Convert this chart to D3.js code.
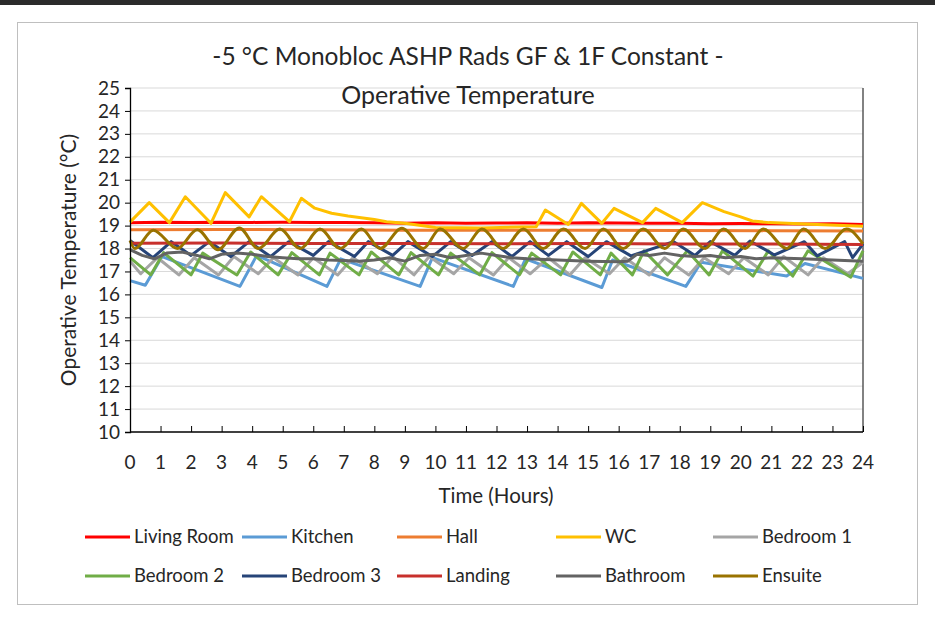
<!DOCTYPE html>
<html>
<head>
<meta charset="utf-8">
<script src="https://cdn.jsdelivr.net/npm/d3@7"></script>
<style>
  body { margin: 0; background: #fff; }
  svg text { font-family: Lato, "Open Sans", sans-serif; fill: #262626; }
</style>
</head>
<body>
<div class="chart"></div>
<script>
// hours / temperatures
const xTicks = d3.range(0, 25);
const yTicks = d3.range(10, 26);

const livingRoom = [[0,19.12],[1,19.15],[2,19.13],[3,19.15],[4,19.14],[5,19.15],[6,19.14],[7,19.13],[8,19.12],[9,19.1],[10,19.12],[11,19.1],[12,19.11],[13,19.12],[14,19.1],[15,19.12],[16,19.11],[17,19.1],[18,19.1],[19,19.08],[20,19.09],[21,19.08],[22,19.07],[23,19.08],[24,19.05]];
const kitchen = [[0,16.6],[0.5,16.4],[1.05,17.65],[3.6,16.35],[4.15,17.7],[6.45,16.35],[6.9,17.55],[9.5,16.35],[9.9,17.6],[12.55,16.35],[12.95,17.55],[15.45,16.3],[15.8,17.5],[18.2,16.35],[18.7,17.4],[21.5,16.8],[22.1,17.35],[24,16.7]];
const hall = [[0,18.82],[3,18.83],[6,18.82],[9,18.8],[12,18.8],[15,18.8],[18,18.79],[21,18.78],[24,18.76]];
const wc = [[0,19.15],[0.63,20.0],[1.29,19.13],[1.81,20.26],[2.65,19.1],[3.12,20.44],[3.9,19.38],[4.3,20.26],[5.22,19.17],[5.61,20.19],[6.05,19.76],[6.6,19.54],[7.14,19.42],[8.0,19.27],[8.4,19.17],[9.0,19.1],[10.0,18.92],[11.5,18.9],[13.3,18.95],[13.6,19.68],[14.35,19.05],[14.78,19.97],[15.45,19.1],[15.85,19.75],[16.78,19.13],[17.21,19.75],[18.08,19.13],[18.74,20.0],[19.45,19.61],[19.97,19.39],[20.38,19.2],[20.93,19.13],[22.5,19.05],[24,18.97]];
const bedroom1 = [[0,17.45],[0.35,16.9],[0.9,17.6],[1.6,16.85],[2.1,17.6],[2.9,16.85],[3.4,17.65],[4.2,16.9],[4.7,17.6],[5.5,16.85],[6.0,17.6],[6.8,16.85],[7.3,17.6],[8.1,16.9],[8.6,17.65],[9.3,16.85],[9.8,17.65],[10.6,16.9],[11.1,17.6],[11.9,16.85],[12.4,17.6],[13.1,16.9],[13.7,17.6],[14.4,16.85],[14.9,17.6],[15.7,16.9],[16.2,17.6],[17.0,16.85],[17.5,17.6],[18.3,16.85],[18.8,17.6],[19.6,16.9],[20.1,17.6],[20.9,16.85],[21.4,17.65],[22.2,16.85],[22.7,17.6],[23.5,16.9],[24,17.4]];
const bedroom2 = [[0,17.6],[0.68,16.85],[1.1,17.82],[2.0,16.85],[2.38,17.8],[3.5,16.85],[3.95,17.85],[4.85,16.85],[5.3,17.82],[6.2,16.85],[6.55,17.8],[7.5,16.85],[7.9,17.85],[8.8,16.85],[9.2,17.82],[10.1,16.85],[10.5,17.8],[11.45,16.85],[11.85,17.82],[12.75,16.85],[13.15,17.8],[14.1,16.85],[14.5,17.85],[15.4,16.85],[15.75,17.8],[16.45,16.85],[16.83,17.9],[17.6,16.85],[18.25,17.9],[18.96,16.85],[19.4,17.9],[20.4,16.8],[20.9,17.9],[21.7,16.8],[22.2,17.9],[23.6,16.75],[24,17.9]];
const bedroom3 = [[0,18.35],[0.75,17.6],[1.35,18.3],[2.0,17.7],[2.6,18.3],[3.3,17.65],[3.9,18.3],[4.6,17.65],[5.2,18.3],[6.0,17.7],[6.5,18.3],[7.35,17.65],[7.8,18.3],[8.6,17.7],[9.1,18.3],[9.9,17.65],[10.5,18.3],[11.2,17.7],[11.85,18.3],[12.5,17.65],[13.1,18.3],[13.7,17.7],[14.3,18.3],[15.0,17.65],[15.6,18.3],[16.4,17.68],[17.8,18.3],[18.5,17.7],[19.0,18.3],[19.8,17.7],[20.3,18.33],[21.1,17.72],[22.08,18.3],[22.5,17.68],[23.4,18.3],[23.66,17.6],[24,18.2]];
const landing = [[0,18.23],[3,18.24],[6,18.22],[9,18.22],[12,18.21],[15,18.22],[18,18.2],[21,18.2],[24,18.18]];
const bathroom = [[0,17.95],[0.4,17.7],[0.8,17.55],[1.2,17.8],[1.7,17.85],[2.2,17.7],[2.6,17.55],[3.0,17.75],[3.5,17.8],[4.0,17.75],[4.5,17.65],[5.0,17.6],[5.5,17.55],[6.0,17.55],[6.5,17.5],[7.0,17.48],[7.5,17.45],[8.0,17.5],[8.5,17.6],[9.0,17.45],[9.5,17.7],[10.0,17.75],[10.5,17.6],[11.0,17.7],[11.5,17.8],[12.0,17.7],[12.5,17.6],[13.0,17.55],[14.0,17.5],[15.0,17.45],[16.0,17.42],[16.3,17.45],[16.6,17.75],[17.0,17.7],[17.5,17.8],[18.0,17.7],[18.5,17.65],[19.0,17.7],[19.5,17.6],[20.0,17.65],[20.5,17.55],[21.0,17.6],[22.0,17.55],[23.0,17.5],[24,17.45]];
const ensuite = [[0,18.35],[0.16,18.0],[0.76,18.8],[1.55,18.0],[2.2,18.82],[2.88,17.95],[3.58,18.9],[4.2,18.0],[4.91,18.85],[5.57,18.0],[6.22,18.85],[6.88,18.0],[7.58,18.85],[8.19,18.0],[8.9,18.88],[9.6,18.0],[10.15,18.85],[10.91,18.0],[11.52,18.85],[12.22,18.0],[12.88,18.85],[13.53,18.0],[14.19,18.85],[14.9,18.0],[15.5,18.85],[16.15,18.0],[16.8,18.85],[17.51,18.0],[18.11,18.85],[18.83,18.0],[19.43,18.85],[20.14,18.0],[20.73,18.85],[21.5,18.0],[22.05,18.85],[22.76,18.0],[23.46,18.85],[24,18.2]];

const seriesNames = ['Living Room','Kitchen','Hall','WC','Bedroom 1','Bedroom 2','Bedroom 3','Landing','Bathroom','Ensuite'];
const seriesValues = [livingRoom, kitchen, hall, wc, bedroom1, bedroom2, bedroom3, landing, bathroom, ensuite];
const seriesColors = ['#FF0000','#5B9BD5','#ED7D31','#FFC000','#A5A5A5','#70AD47','#264478','#C8302C','#636363','#997300'];

const W = 935, H = 623;
const margin = ({top: 88, right: 72, bottom: 191, left: 130});

const svg = d3.select('.chart')
    .append('svg')
    .attr('width', W)
    .attr('height', H);

// dark strip at top of screenshot + chart frame
svg.append('rect').attr('x', 0).attr('y', 0).attr('width', W).attr('height', 5).attr('fill', '#2b2b2b');
svg.append('rect')
    .attr('x', 17.5).attr('y', 22.5)
    .attr('width', 900).attr('height', 582)
    .attr('fill', 'white')
    .attr('stroke', '#BFBFBF');

const xScale = d3.scaleLinear().domain([0, 24]).range([margin.left, W - margin.right]);
const yScale = d3.scaleLinear().domain([10, 25]).range([H - margin.bottom, margin.top]);

// gridlines
svg.append('g')
    .selectAll('line')
    .data(yTicks.slice(1))
    .enter()
    .append('line')
    .attr('x1', xScale(0)).attr('x2', xScale(24))
    .attr('y1', d => yScale(d)).attr('y2', d => yScale(d))
    .attr('stroke', '#D9D9D9')
    .attr('stroke-width', 1);

// right frame of plot
svg.append('line')
    .attr('x1', xScale(24)).attr('x2', xScale(24))
    .attr('y1', yScale(25)).attr('y2', yScale(10))
    .attr('stroke', '#595959').attr('stroke-width', 1.5);

const line = d3.line()
    .x(d => xScale(d[0]))
    .y(d => yScale(d[1]));

svg.append('g')
    .selectAll('path')
    .data(seriesValues)
    .enter()
    .append('path')
    .attr('d', (d, i) => (i === 9 ? line.curve(d3.curveMonotoneX) : line.curve(d3.curveLinear))(d))
    .attr('fill', 'none')
    .attr('stroke', (d, i) => seriesColors[i])
    .attr('stroke-width', 3)
    .attr('stroke-linejoin', 'round');

// axes
const xAxis = d3.axisTop(xScale).tickValues(xTicks).tickSize(6).tickFormat('');
const yAxis = d3.axisLeft(yScale).tickValues(yTicks).tickSize(5).tickFormat(d3.format('d'));

svg.append('g')
    .attr('class', 'axis x-axis')
    .attr('transform', 'translate(0,' + yScale(10) + ')')
    .call(xAxis)
    .call(g => g.select('.domain').remove());

svg.append('line')
    .attr('x1', xScale(0)).attr('x2', xScale(24))
    .attr('y1', yScale(10)).attr('y2', yScale(10))
    .attr('stroke', '#000').attr('stroke-width', 1.3);

svg.append('g')
    .selectAll('text')
    .data(xTicks)
    .enter()
    .append('text')
    .attr('x', d => xScale(d))
    .attr('y', yScale(10) + 37)
    .attr('text-anchor', 'middle')
    .attr('font-size', 19)
    .text(d => d);

svg.append('g')
    .attr('class', 'axis y-axis')
    .attr('transform', 'translate(' + xScale(0) + ',0)')
    .call(yAxis)
    .call(g => g.select('.domain').attr('stroke', '#000').attr('stroke-width', 1.3))
    .call(g => g.selectAll('.tick line').attr('stroke', '#000'))
    .call(g => g.selectAll('.tick text').attr('font-size', 19).attr('x', -10).attr('fill', '#262626').style('font-family', 'Lato, sans-serif'));

svg.selectAll('.x-axis .tick line').attr('stroke', '#000');

// titles
svg.append('text')
    .attr('x', 468).attr('y', 65)
    .attr('text-anchor', 'middle')
    .attr('font-size', 24.5)
    .text('-5 °C Monobloc ASHP Rads GF & 1F Constant -');

svg.append('text')
    .attr('x', 468).attr('y', 104)
    .attr('text-anchor', 'middle')
    .attr('font-size', 25)
    .text('Operative Temperature');

svg.append('text')
    .attr('x', 496).attr('y', 503)
    .attr('text-anchor', 'middle')
    .attr('font-size', 20.5)
    .text('Time (Hours)');

svg.append('text')
    .attr('transform', 'translate(76,' + yScale(17.5) + ') rotate(-90)')
    .attr('text-anchor', 'middle')
    .attr('font-size', 21)
    .text('Operative Temperature (°C)');

// legend
const legendX = [85, 242, 397, 556, 713];
const legendY = [537, 576];
const legend = svg.append('g')
    .selectAll('g')
    .data(seriesNames)
    .enter()
    .append('g')
    .attr('transform', (d, i) => `translate(${legendX[i % 5]}, ${legendY[Math.floor(i / 5)]})`);

legend.append('line')
    .attr('x1', 0).attr('x2', 45)
    .attr('stroke', (d, i) => seriesColors[i])
    .attr('stroke-width', 3);

legend.append('text')
    .attr('x', 49)
    .attr('y', 6)
    .attr('font-size', 18.5)
    .text(d => d);
</script>
</body>
</html>
